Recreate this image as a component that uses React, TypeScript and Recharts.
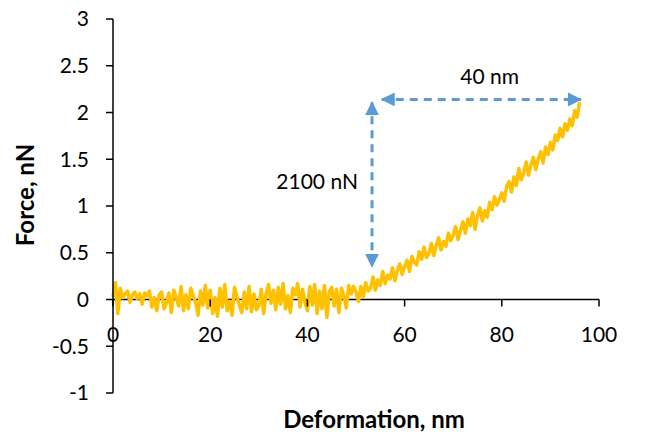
import { LineChart, Line, XAxis, YAxis, ReferenceLine, ReferenceDot } from "recharts";

// deformation in nm, sampled every 0.5 nm
const deformation = [
  0, 0.5, 1, 1.5, 2, 2.5, 3, 3.5, 4, 4.5, 5, 5.5, 6, 6.5, 7, 7.5, 8, 8.5, 9, 9.5,
  10, 10.5, 11, 11.5, 12, 12.5, 13, 13.5, 14, 14.5, 15, 15.5, 16, 16.5, 17, 17.5, 18, 18.5, 19, 19.5,
  20, 20.5, 21, 21.5, 22, 22.5, 23, 23.5, 24, 24.5, 25, 25.5, 26, 26.5, 27, 27.5, 28, 28.5, 29, 29.5,
  30, 30.5, 31, 31.5, 32, 32.5, 33, 33.5, 34, 34.5, 35, 35.5, 36, 36.5, 37, 37.5, 38, 38.5, 39, 39.5,
  40, 40.5, 41, 41.5, 42, 42.5, 43, 43.5, 44, 44.5, 45, 45.5, 46, 46.5, 47, 47.5, 48, 48.5, 49, 49.5,
  50, 50.5, 51, 51.5, 52, 52.5, 53, 53.5, 54, 54.5, 55, 55.5, 56, 56.5, 57, 57.5, 58, 58.5, 59, 59.5,
  60, 60.5, 61, 61.5, 62, 62.5, 63, 63.5, 64, 64.5, 65, 65.5, 66, 66.5, 67, 67.5, 68, 68.5, 69, 69.5,
  70, 70.5, 71, 71.5, 72, 72.5, 73, 73.5, 74, 74.5, 75, 75.5, 76, 76.5, 77, 77.5, 78, 78.5, 79, 79.5,
  80, 80.5, 81, 81.5, 82, 82.5, 83, 83.5, 84, 84.5, 85, 85.5, 86, 86.5, 87, 87.5, 88, 88.5, 89, 89.5,
  90, 90.5, 91, 91.5, 92, 92.5, 93, 93.5, 94, 94.5, 95, 95.5, 96,
];

// force in nN
const force = [
  0.03, 0.18, -0.15, 0.12, 0.02, 0.06, 0.09, -0.03, 0.05, 0.08, 0.01, 0.06, -0.05, 0.07, 0.04, 0.09, -0.08, 0.02, -0.12, 0.05,
  0.08, -0.1, -0.04, 0.07, -0.14, 0.1, 0.02, -0.07, 0.14, -0.12, 0.05, -0.1, 0.12, 0.04, -0.03, -0.17, 0.09, -0.06, 0.15, -0.09,
  0.1, -0.15, 0.02, -0.18, 0.12, -0.08, 0.16, -0.12, -0.02, -0.17, 0.13, 0.03, -0.06, -0.14, 0.08, -0.1, 0.14, -0.13, 0.06, -0.11,
  -0.07, 0.11, -0.15, 0.06, 0.16, -0.04, 0.1, -0.11, 0.13, -0.05, 0.17, -0.1, 0.04, -0.14, 0.12, 0.05, 0.17, -0.08, 0.11, -0.03,
  -0.12, 0.14, -0.06, 0.16, -0.15, 0.09, -0.1, 0.15, -0.19, 0.08, 0.13, -0.07, 0.11, -0.14, 0.12, 0.04, -0.09, 0.15, 0.06, 0.14,
  0.08, -0.02, 0.14, 0.03, 0.18, 0.09, 0.12, 0.24, 0.1, 0.21, 0.15, 0.3, 0.17, 0.26, 0.22, 0.34, 0.2, 0.31, 0.38, 0.27,
  0.35, 0.42, 0.3, 0.46, 0.4, 0.37, 0.51, 0.43, 0.56, 0.45, 0.49, 0.6, 0.47, 0.58, 0.66, 0.53, 0.62, 0.57, 0.71, 0.63,
  0.69, 0.78, 0.64, 0.74, 0.83, 0.71, 0.86, 0.79, 0.93, 0.75, 0.9, 0.98, 0.84, 0.95, 0.88, 1.04, 0.96, 1.1, 1.01, 1.07,
  1.14, 1.05, 1.21, 1.26, 1.15, 1.31, 1.22, 1.4, 1.28, 1.35, 1.47, 1.33, 1.44, 1.52, 1.39, 1.5, 1.58, 1.46, 1.63, 1.55,
  1.68, 1.6, 1.76, 1.7, 1.83, 1.74, 1.88, 1.81, 1.93, 1.86, 2.02, 1.95, 2.11,
];

const xTicks = [0, 20, 40, 60, 80, 100];
const yTicks = [-1, -0.5, 0, 0.5, 1, 1.5, 2, 2.5, 3];

// annotation arrows: [x1, y1, x2, y2]
const widthArrow = [55.3, 2.14, 96.3, 2.14];
const heightArrow = [53.3, 2.11, 53.3, 0.35];
const widthLabel = { x: 77.5, y: 2.38, text: "40 nm" };
const heightLabel = { x: 42, y: 1.26, text: "2100 nN" };

const data = deformation.map((d, i) => ({ deformation: d, force: force[i] }));

const W = 664;
const H = 436;
const TOP = 19;
const X_AXIS_H = 43;
const Y_AXIS_W = 113;
const Y_MIN = -1;
const Y_MAX = 3;
const PLOT_H = H - TOP - X_AXIS_H;
const zeroY = TOP + (PLOT_H * (Y_MAX - 0)) / (Y_MAX - Y_MIN);

const FONT = "Lato, 'Open Sans', sans-serif";
const TICK_SIZE = 21;
const TITLE_SIZE = 24;
const ARROW = "#5B9BD5";

const XTick = (props: any) => {
  const { x, payload } = props;
  return (
    <g>
      <line x1={x} x2={x} y1={zeroY} y2={zeroY + 7} stroke="#000" strokeWidth={1.5} />
      <text x={x} y={zeroY + 42} textAnchor="middle" fontFamily={FONT} fontSize={TICK_SIZE} fill="#000">
        {payload.value}
      </text>
    </g>
  );
};

const arrowShape = (props: any) => (
  <line
    x1={props.x1}
    y1={props.y1}
    x2={props.x2}
    y2={props.y2}
    stroke={ARROW}
    strokeWidth={3}
    strokeDasharray="8 6"
    markerStart="url(#arrowHead)"
    markerEnd="url(#arrowHead)"
  />
);

export default function App() {
  return (
    <div style={{ position: "absolute", left: 0, top: 0, background: "#fff" }}>
      <svg width={0} height={0} style={{ position: "absolute" }}>
        <defs>
          <marker
            id="arrowHead"
            viewBox="0 0 14 14"
            markerUnits="userSpaceOnUse"
            markerWidth={14}
            markerHeight={14}
            refX={13}
            refY={7}
            orient="auto-start-reverse"
          >
            <path d="M0,0 L14,7 L0,14 z" fill={ARROW} />
          </marker>
        </defs>
      </svg>
      <LineChart width={W} height={H} data={data} margin={{ top: TOP, right: 65, bottom: 0, left: 0 }}>
        <XAxis
          dataKey="deformation"
          type="number"
          domain={[0, 100]}
          ticks={xTicks}
          axisLine={false}
          tickLine={false}
          height={X_AXIS_H}
          tick={<XTick />}
          label={{
            value: "Deformation, nm",
            content: (p: any) => (
              <text
                x={p.viewBox.x + p.viewBox.width / 2 + 18}
                y={p.viewBox.y + 35}
                textAnchor="middle"
                fontFamily={FONT}
                fontWeight="bold"
                fontSize={TITLE_SIZE}
                fill="#000"
              >
                Deformation, nm
              </text>
            ),
          }}
        />
        <YAxis
          type="number"
          domain={[Y_MIN, Y_MAX]}
          ticks={yTicks}
          width={Y_AXIS_W}
          axisLine={{ stroke: "#000", strokeWidth: 1.5 }}
          tickLine={{ stroke: "#000", strokeWidth: 1.5 }}
          tickSize={7}
          tickMargin={17}
          tick={{ fill: "#000", fontSize: TICK_SIZE, fontFamily: FONT }}
          label={{
            value: "Force, nN",
            content: (p: any) => {
              const cx = 24;
              const cy = p.viewBox.y + p.viewBox.height / 2 - 11;
              return (
                <text
                  x={cx}
                  y={cy}
                  transform={`rotate(-90 ${cx} ${cy})`}
                  textAnchor="middle"
                  dominantBaseline="central"
                  fontFamily={FONT}
                  fontWeight="bold"
                  fontSize={TITLE_SIZE}
                  fill="#000"
                >
                  Force, nN
                </text>
              );
            },
          }}
        />
        <ReferenceLine y={0} stroke="#000" strokeWidth={1.5} />
        <Line
          type="linear"
          dataKey="force"
          stroke="#FFC000"
          strokeWidth={3.5}
          strokeLinejoin="round"
          dot={false}
          isAnimationActive={false}
        />
        <ReferenceLine
          segment={[
            { x: widthArrow[0], y: widthArrow[1] },
            { x: widthArrow[2], y: widthArrow[3] },
          ]}
          shape={arrowShape}
        />
        <ReferenceLine
          segment={[
            { x: heightArrow[0], y: heightArrow[1] },
            { x: heightArrow[2], y: heightArrow[3] },
          ]}
          shape={arrowShape}
        />
        <ReferenceDot
          x={widthLabel.x}
          y={widthLabel.y}
          r={0}
          fill="none"
          stroke="none"
          label={{ value: widthLabel.text, position: "center", fill: "#000", fontSize: TICK_SIZE, fontFamily: FONT }}
        />
        <ReferenceDot
          x={heightLabel.x}
          y={heightLabel.y}
          r={0}
          fill="none"
          stroke="none"
          label={{ value: heightLabel.text, position: "center", fill: "#000", fontSize: TICK_SIZE, fontFamily: FONT }}
        />
      </LineChart>
    </div>
  );
}
